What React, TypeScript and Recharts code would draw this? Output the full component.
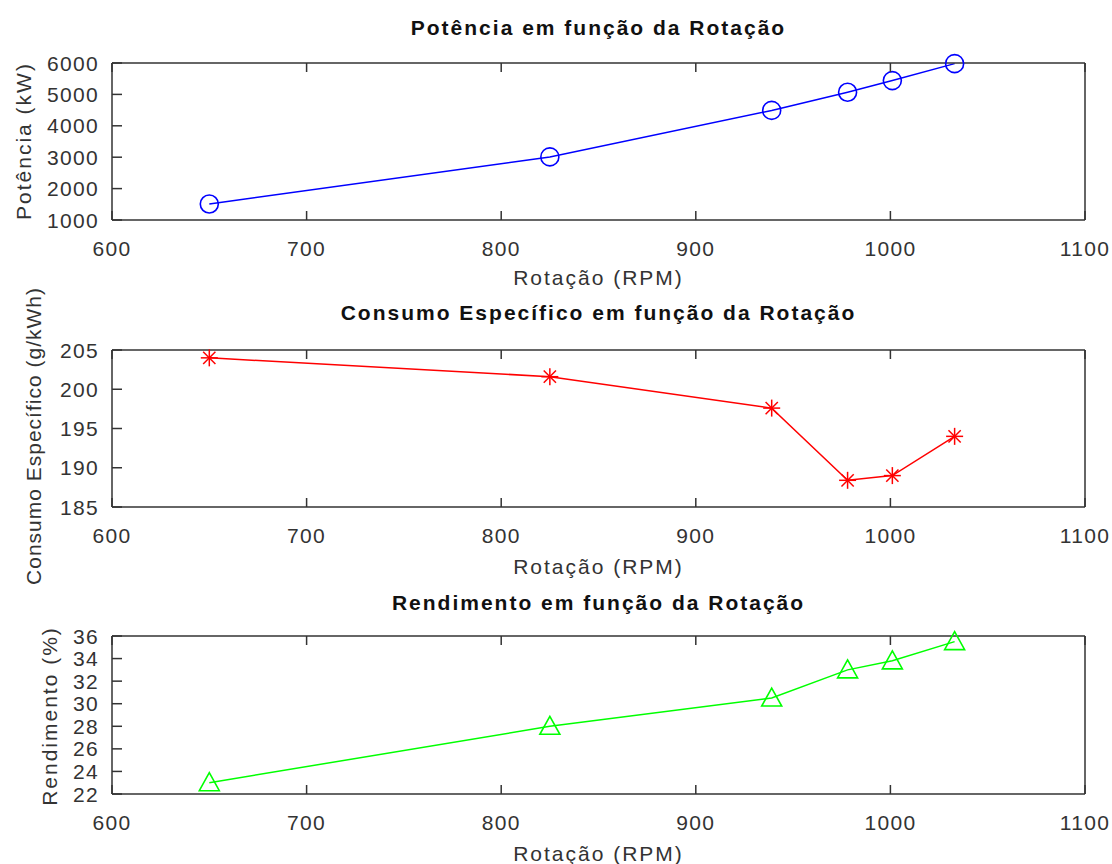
import React from 'react';
import { LineChart, Line, XAxis, YAxis } from 'recharts';

const rotacao = [650, 825, 939, 978, 1001, 1033];
const potencia = [1510, 3010, 4490, 5070, 5440, 5980];
const consumo = [204.0, 201.6, 197.6, 188.4, 189.0, 194.0];
const rendimento = [23.0, 28.0, 30.5, 33.0, 33.8, 35.5];

const rpmTicks = [600, 700, 800, 900, 1000, 1100];
const potenciaTicks = [1000, 2000, 3000, 4000, 5000, 6000];
const consumoTicks = [185, 190, 195, 200, 205];
const rendimentoTicks = [22, 24, 26, 28, 30, 32, 34, 36];

const rows = rotacao.map((rpm, i) => ({
  rpm,
  potencia: potencia[i],
  consumo: consumo[i],
  rendimento: rendimento[i],
}));

const FONT = '"Liberation Sans", Arial, sans-serif';
const FRAME = '#333';
const TICK_TEXT = '#333';
const W = 1112;
const H = 288;
const PLOT_LEFT = 112;
const PLOT_RIGHT = 1085;
const CENTER_X = (PLOT_LEFT + PLOT_RIGHT) / 2;

const tickText = { fontFamily: FONT, fontSize: 21, letterSpacing: 1.3, fill: TICK_TEXT };

const XTickBottom = (p: any) => (
  <g>
    <line x1={p.x} x2={p.x} y1={p.y} y2={p.y - 9} stroke={FRAME} strokeWidth={1.5} />
    <text x={p.x} y={p.y + 28} textAnchor="middle" dominantBaseline="central" style={tickText}>
      {p.payload.value}
    </text>
  </g>
);
const XTickTop = (p: any) => (
  <line x1={p.x} x2={p.x} y1={p.y} y2={p.y + 9} stroke={FRAME} strokeWidth={1.5} />
);
const YTickLeft = (p: any) => (
  <g>
    <line x1={p.x} x2={p.x + 10} y1={p.y} y2={p.y} stroke={FRAME} strokeWidth={1.5} />
    <text x={p.x - 13} y={p.y} textAnchor="end" dominantBaseline="central" style={tickText}>
      {p.payload.value}
    </text>
  </g>
);
const YTickRight = (p: any) => (
  <line x1={p.x} x2={p.x - 10} y1={p.y} y2={p.y} stroke={FRAME} strokeWidth={1.5} />
);

const circleDot = (color: string) => (p: any) => (
  <circle key={p.index} cx={p.cx} cy={p.cy} r={9} fill="none" stroke={color} strokeWidth={1.6} />
);
const starDot = (color: string) => (p: any) => {
  const s = 8.5;
  const d = s * 0.72;
  return (
    <g key={p.index} stroke={color} strokeWidth={1.5}>
      <line x1={p.cx - s} x2={p.cx + s} y1={p.cy} y2={p.cy} />
      <line x1={p.cx} x2={p.cx} y1={p.cy - s} y2={p.cy + s} />
      <line x1={p.cx - d} x2={p.cx + d} y1={p.cy - d} y2={p.cy + d} />
      <line x1={p.cx - d} x2={p.cx + d} y1={p.cy + d} y2={p.cy - d} />
    </g>
  );
};
const triangleDot = (color: string) => (p: any) => {
  const s = 10;
  const pts = `${p.cx},${p.cy - s} ${p.cx + s},${p.cy + s * 0.8} ${p.cx - s},${p.cy + s * 0.8}`;
  return <polygon key={p.index} points={pts} fill="none" stroke={color} strokeWidth={1.6} />;
};

type PanelProps = {
  offset: number;
  plotTop: number;
  plotBottom: number;
  title: string;
  titleY: number;
  yLabel: string;
  yLabelX: number;
  yLabelY: number;
  yLabelSpacing: number;
  xLabelY: number;
  dataKey: string;
  color: string;
  domain: [number, number];
  ticks: number[];
  dot: any;
};

function Panel(props: PanelProps) {
  const { offset, plotTop, plotBottom, title, titleY, yLabel, yLabelX, yLabelY, yLabelSpacing, xLabelY, dataKey, color, domain, ticks, dot } = props;
  const label = { position: 'absolute' as const, fontFamily: FONT, whiteSpace: 'nowrap' as const, lineHeight: 1 };
  return (
    <div style={{ position: 'absolute', left: 0, top: offset, width: W, height: H }}>
      <LineChart
        width={W}
        height={H}
        data={rows}
        margin={{ top: plotTop - 1, bottom: H - plotBottom - 1, left: PLOT_LEFT - 1, right: W - PLOT_RIGHT - 1 }}
      >
        <XAxis
          dataKey="rpm"
          type="number"
          domain={[600, 1100]}
          ticks={rpmTicks}
          interval={0}
          height={1}
          tickSize={0}
          tickMargin={0}
          tickLine={false}
          axisLine={{ stroke: FRAME, strokeWidth: 1.5 }}
          tick={XTickBottom}
        />
        <XAxis
          xAxisId="top"
          orientation="top"
          dataKey="rpm"
          type="number"
          domain={[600, 1100]}
          ticks={rpmTicks}
          interval={0}
          height={1}
          tickSize={0}
          tickMargin={0}
          tickLine={false}
          axisLine={{ stroke: FRAME, strokeWidth: 1.5 }}
          tick={XTickTop}
        />
        <YAxis
          type="number"
          domain={domain}
          ticks={ticks}
          interval={0}
          width={1}
          tickSize={0}
          tickMargin={0}
          tickLine={false}
          axisLine={{ stroke: FRAME, strokeWidth: 1.5 }}
          tick={YTickLeft}
        />
        <YAxis
          yAxisId="right"
          orientation="right"
          type="number"
          domain={domain}
          ticks={ticks}
          interval={0}
          width={1}
          tickSize={0}
          tickMargin={0}
          tickLine={false}
          axisLine={{ stroke: FRAME, strokeWidth: 1.5 }}
          tick={YTickRight}
        />
        <Line
          dataKey={dataKey}
          stroke={color}
          strokeWidth={1.5}
          dot={dot}
          activeDot={false}
          isAnimationActive={false}
        />
      </LineChart>
      <div
        style={{ ...label, left: CENTER_X, top: titleY, transform: 'translate(-50%, -50%)', fontSize: 21, fontWeight: 'bold', letterSpacing: 2, color: '#111' }}
      >
        {title}
      </div>
      <div
        style={{ ...label, left: CENTER_X, top: xLabelY, transform: 'translate(-50%, -50%)', fontSize: 21, letterSpacing: 2, color: '#333' }}
      >
        Rotação (RPM)
      </div>
      <div
        style={{ ...label, left: yLabelX, top: yLabelY, transform: 'translate(-50%, -50%) rotate(-90deg)', fontSize: 21, letterSpacing: yLabelSpacing, color: '#333' }}
      >
        {yLabel}
      </div>
    </div>
  );
}

export default function App() {
  return (
    <div style={{ position: 'absolute', left: 0, top: 0, width: W, height: 864, background: '#fff' }}>
      <Panel
        offset={0}
        plotTop={63}
        plotBottom={220}
        title="Potência em função da Rotação"
        titleY={27}
        yLabel="Potência (kW)"
        yLabelX={23}
        yLabelY={141}
        yLabelSpacing={2}
        xLabelY={277}
        dataKey="potencia"
        color="#0000ff"
        domain={[1000, 6000]}
        ticks={potenciaTicks}
        dot={circleDot('#0000ff')}
      />
      <Panel
        offset={288}
        plotTop={62}
        plotBottom={219}
        title="Consumo Específico em função da Rotação"
        titleY={24}
        yLabel="Consumo Específico (g/kWh)"
        yLabelX={33}
        yLabelY={148}
        yLabelSpacing={1}
        xLabelY={278}
        dataKey="consumo"
        color="#ff0000"
        domain={[185, 205]}
        ticks={consumoTicks}
        dot={starDot('#ff0000')}
      />
      <Panel
        offset={576}
        plotTop={60}
        plotBottom={218}
        title="Rendimento em função da Rotação"
        titleY={26}
        yLabel="Rendimento (%)"
        yLabelX={49}
        yLabelY={140}
        yLabelSpacing={2}
        xLabelY={277}
        dataKey="rendimento"
        color="#00ff00"
        domain={[22, 36]}
        ticks={rendimentoTicks}
        dot={triangleDot('#00ff00')}
      />
    </div>
  );
}
